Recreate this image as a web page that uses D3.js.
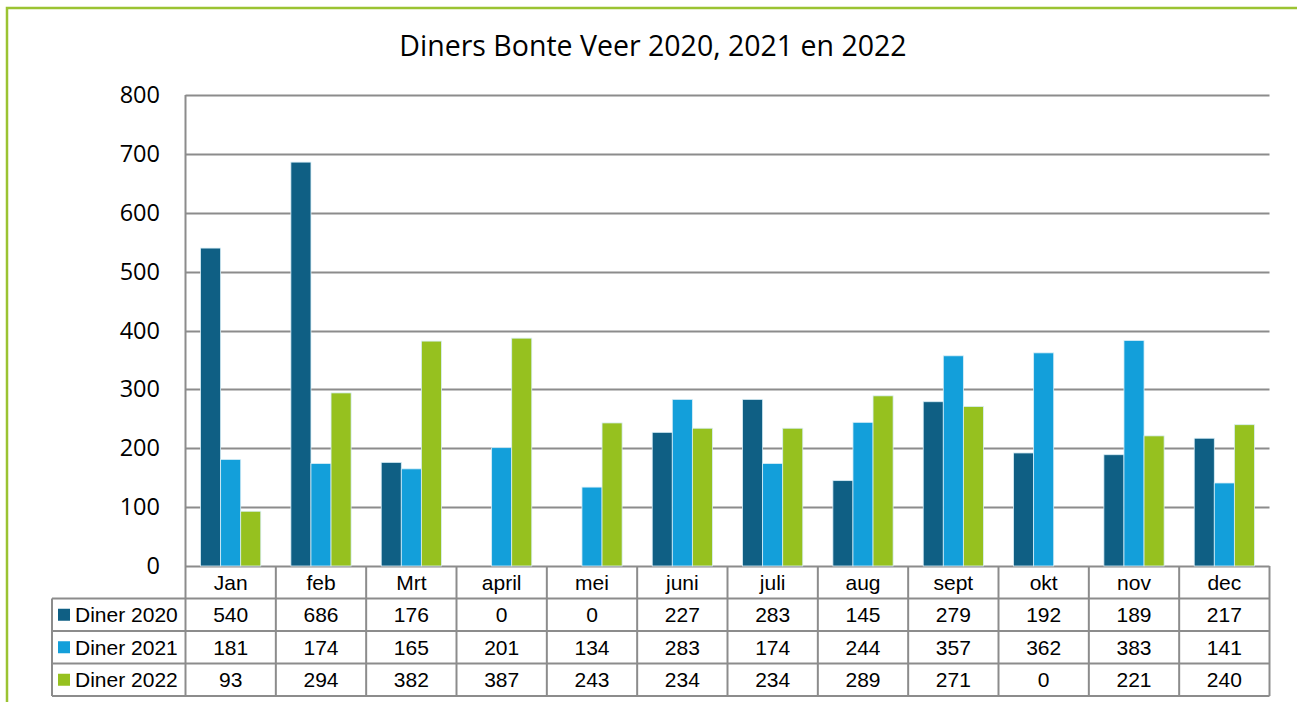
<!DOCTYPE html>
<html><head><meta charset="utf-8">
<script src="https://cdn.jsdelivr.net/npm/d3@7"></script>
<style>html,body{margin:0;padding:0;background:#fff;}svg{display:block;}</style>
</head><body>
<script>
const months = ["Jan","feb","Mrt","april","mei","juni","juli","aug","sept","okt","nov","dec"];
const seriesNames = ["Diner 2020","Diner 2021","Diner 2022"];
const diner2020 = [540,686,176,0,0,227,283,145,279,192,189,217];
const diner2021 = [181,174,165,201,134,283,174,244,357,362,383,141];
const diner2022 = [93,294,382,387,243,234,234,289,271,0,221,240];
const yTicks = [0,100,200,300,400,500,600,700,800];
const colors = ["#0F5F84","#139FDA","#96C11F"];
const series = [diner2020, diner2021, diner2022];

(function(){
const W = 1297, H = 702;
const svg = d3.select("body").append("svg").attr("width", W).attr("height", H);

// frame
svg.append("path").attr("d", `M7,${H} L7,8 L${W+5},8`).attr("fill","none").attr("stroke","#9BC332").attr("stroke-width",2.5);

svg.append("text").attr("x", 653).attr("y", 56).attr("text-anchor","middle")
  .attr("font-family","Open Sans, Liberation Sans, sans-serif").attr("font-size", 28.5).attr("fill","#000")
  .text("Diners Bonte Veer 2020, 2021 en 2022");

const pLeft = 185.5, pRight = 1269.5, pTop = 95, pBottom = 566;
const x = d3.scaleBand().domain(months).range([pLeft, pRight]).paddingInner(0).paddingOuter(0);
const y = d3.scaleLinear().domain([0,800]).range([pBottom, pTop]);
const xs = d3.scaleBand().domain(d3.range(3)).range([0, x.bandwidth()]).paddingOuter(0.75).paddingInner(0);

// gridlines
svg.append("g").selectAll("line").data(yTicks).join("line")
  .attr("x1", pLeft).attr("x2", pRight).attr("y1", d => Math.round(y(d))+0.5).attr("y2", d => Math.round(y(d))+0.5)
  .attr("stroke","#8C8C8C").attr("stroke-width",2);
svg.append("line").attr("x1", pLeft).attr("x2", pLeft).attr("y1", pTop).attr("y2", pBottom)
  .attr("stroke","#8C8C8C").attr("stroke-width",2);

// y labels
svg.append("g").selectAll("text").data(yTicks).join("text")
  .attr("x", 160).attr("y", d => y(d) + 8).attr("text-anchor","end")
  .attr("font-family","Open Sans, Liberation Sans, sans-serif").attr("font-size", 23.5).attr("fill","#000")
  .text(d => d);

// bars
series.forEach((vals, si) => {
  svg.append("g").selectAll("rect").data(vals.map((v,i)=>({m:months[i], v})).filter(d => d.v > 0)).join("rect")
    .attr("x", d => x(d.m) + xs(si)).attr("width", xs.bandwidth())
    .attr("y", d => y(d.v)).attr("height", d => y(0) - y(d.v))
    .attr("fill", colors[si]).attr("stroke","#D8EEF7").attr("stroke-width",0.8);
});

// table
const rowH = 32.5;
const tTop = pBottom, tLeft = 52;
const grid = "#8C8C8C";
const tg = svg.append("g").attr("font-family","Liberation Sans, Arial, sans-serif").attr("font-size",21).attr("fill","#000");
for (let r = 1; r <= 4; r++) {
  const yy = tTop + r*rowH;
  tg.append("line").attr("x1", tLeft).attr("x2", pRight).attr("y1", yy).attr("y2", yy).attr("stroke",grid).attr("stroke-width",2);
}
months.forEach((m) => {
  const xx = x(m);
  tg.append("line").attr("x1", xx).attr("x2", xx).attr("y1", tTop).attr("y2", tTop+4*rowH).attr("stroke",grid).attr("stroke-width",2);
});
tg.append("line").attr("x1", pRight).attr("x2", pRight).attr("y1", tTop).attr("y2", tTop+4*rowH).attr("stroke",grid).attr("stroke-width",2);
tg.append("line").attr("x1", tLeft).attr("x2", tLeft).attr("y1", tTop+rowH).attr("y2", tTop+4*rowH).attr("stroke",grid).attr("stroke-width",2);

tg.selectAll("text.m").data(months).join("text").attr("class","m")
  .attr("x", d => x(d) + x.bandwidth()/2).attr("y", tTop + rowH/2 + 7.5).attr("text-anchor","middle").text(d => d);

series.forEach((vals, si) => {
  const cy = tTop + (si+1)*rowH + rowH/2;
  tg.append("rect").attr("x", 58).attr("y", cy - 6).attr("width", 12).attr("height", 12).attr("fill", colors[si]);
  tg.append("text").attr("x", 75).attr("y", cy + 7.5).text(seriesNames[si]);
  tg.append("g").selectAll("text").data(vals).join("text")
    .attr("x", (d,i) => x(months[i]) + x.bandwidth()/2).attr("y", cy + 7.5).attr("text-anchor","middle").text(d => d);
});
})();
</script>
</body></html>
